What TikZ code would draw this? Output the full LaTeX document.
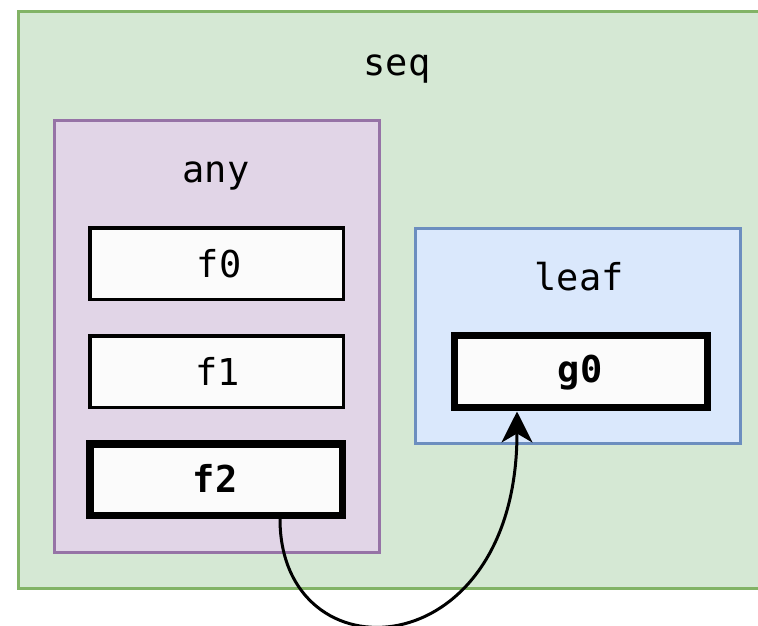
\documentclass[tikz,border=0pt]{standalone}
\usepackage{fontspec}
\setmonofont{DejaVu Sans Mono}
\usetikzlibrary{arrows.meta}
\definecolor{gfill}{HTML}{D5E8D4}
\definecolor{gline}{HTML}{82B366}
\definecolor{pfill}{HTML}{E1D5E7}
\definecolor{pline}{HTML}{9673A6}
\definecolor{bfill}{HTML}{DAE8FC}
\definecolor{bline}{HTML}{6C8EBF}
\definecolor{boxfill}{HTML}{FBFBFB}
\tikzset{
  lbl/.style={font=\fontsize{37}{44}\selectfont\ttfamily, text=black, inner sep=0pt, anchor=base},
  thinbox/.style={draw=black, line width=3.5pt, fill=boxfill},
  thickbox/.style={draw=black, line width=7.5pt, fill=boxfill},
  cont/.style={line width=3pt},
}
\begin{document}
\begin{tikzpicture}[x=1pt,y=-1pt]
\useasboundingbox (0,0) rectangle (758,625);
\clip (0,0) rectangle (758,625);
\fill[white] (0,0) rectangle (758,625);
% containers
\draw[cont, fill=gfill, draw=gline] (18.5,11.5) rectangle (775,588.5);
\node[lbl] (seq) at (397,75) {seq};
\draw[cont, fill=pfill, draw=pline] (54.5,120) rectangle (379.5,552.5);
\node[lbl] (any) at (216,182) {any};
\draw[cont, fill=bfill, draw=bline] (415,228) rectangle (740,443);
\node[lbl] (leaf) at (579,290) {leaf};
% inner boxes
\draw[thinbox] (90,228) rectangle (343.5,299.5);
\node[lbl] (f0) at (219,277) {f0};
\draw[thinbox] (90,336) rectangle (343.5,407.5);
\node[lbl] (f1) at (218,385) {f1};
\draw[thickbox] (90,444) rectangle (342.5,515.5);
\node[lbl] (f2) at (215,492) {\bfseries f2};
\draw[thickbox] (454.5,335.5) rectangle (707.5,407.5);
\node[lbl] (g0) at (580,382) {\bfseries g0};
\coordinate (a) at (280,519);
\coordinate (b) at (517,411.5);
\draw[line width=3pt, -{Stealth[length=31pt,width=31pt,inset=9pt]}] (a) .. controls (280,680) and (517,670) .. (b);
\end{tikzpicture}
\end{document}
